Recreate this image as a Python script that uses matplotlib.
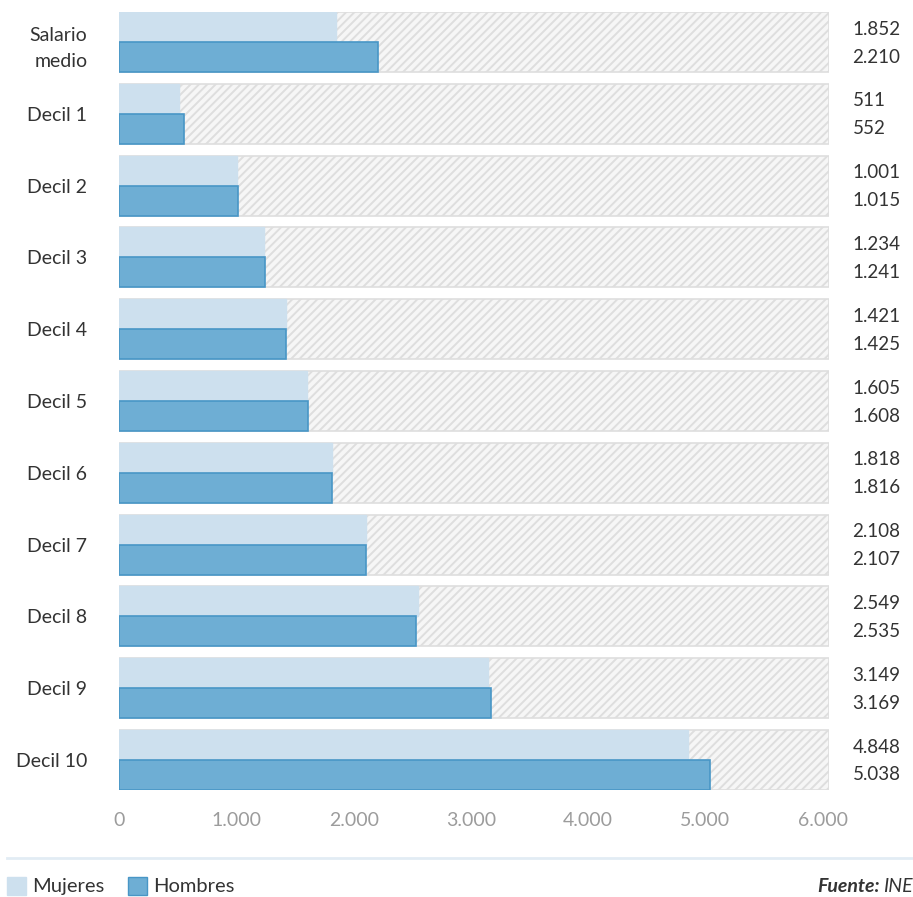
import matplotlib.pyplot as plt
from matplotlib.lines import Line2D
from matplotlib.patches import Rectangle
import numpy as np

plt.rcParams['font.family'] = ['Lato', 'DejaVu Sans']
plt.rcParams['hatch.linewidth'] = 1.4

categories = ["Salario\nmedio", "Decil 1", "Decil 2", "Decil 3", "Decil 4", "Decil 5",
              "Decil 6", "Decil 7", "Decil 8", "Decil 9", "Decil 10"]
mujeres = [1852, 511, 1001, 1234, 1421, 1605, 1818, 2108, 2549, 3149, 4848]
hombres = [2210, 552, 1015, 1241, 1425, 1608, 1816, 2107, 2535, 3169, 5038]
xticks = [0, 1000, 2000, 3000, 4000, 5000, 6000]

C_MUJ = '#cde0ee'
C_HOM = '#6eaed4'
C_HOM_EDGE = '#4896c6'
TXT = '#333333'

W, H = 913, 897
fig = plt.figure(figsize=(W / 100, H / 100), dpi=100)

# axes box in pixels: left 119, right 829, top 12, bottom 790
ax = fig.add_axes([119.3 / W, (H - 790) / H, (829 - 119.3) / W, 778 / H])

XMAX = 6055
BOX = 0.836   # height of each row box
y = np.arange(len(categories))
half = BOX / 2

# hatched background for every row
ax.barh(y, XMAX, height=BOX, color='#f6f6f6', edgecolor='#dedede',
        hatch='////', linewidth=1.2, zorder=1)
ax.barh(y - half / 2, mujeres, height=half, color=C_MUJ, edgecolor=C_MUJ,
        linewidth=1, zorder=2)
ax.barh(y + half / 2, hombres, height=half, color=C_HOM, edgecolor=C_HOM_EDGE,
        linewidth=1.2, zorder=3)

def fmt(v):
    return f"{v:,}".replace(',', '.')

for i in y:
    ax.text(XMAX + 200, i - half / 2 + 0.03, fmt(mujeres[i]), ha='left', va='center',
            fontsize=13.5, color=TXT, clip_on=False)
    ax.text(XMAX + 200, i + half / 2 + 0.0, fmt(hombres[i]), ha='left', va='center',
            fontsize=13.5, color=TXT, clip_on=False)

ax.set_xlim(0, XMAX)
ax.set_ylim(len(categories) - 1 + half, -half)
ax.set_yticks(y)
ax.set_yticklabels(categories, fontsize=14, color=TXT, linespacing=1.65)
ax.set_xticks(xticks)
ax.set_xticklabels([fmt(t) for t in xticks], fontsize=14, color='#9c9c9c')
ax.tick_params(axis='y', length=0, pad=23)
ax.tick_params(axis='x', length=0, pad=16)
for s in ax.spines.values():
    s.set_visible(False)

# separator above legend
fig.add_artist(Line2D([7 / W, 1.0], [(H - 858) / H] * 2, color='#e2ecf4', lw=2))

# legend
for x0, col, edge, lab in [(7, C_MUJ, C_MUJ, 'Mujeres'), (128, C_HOM, C_HOM_EDGE, 'Hombres')]:
    fig.add_artist(Rectangle((x0 / W, (H - 895) / H), 19 / W, 18 / H, facecolor=col,
                             edgecolor=edge, lw=1, transform=fig.transFigure))
    fig.text((x0 + 25) / W, (H - 886) / H, lab, fontsize=14.5, color=TXT, va='center')

fig.text(880 / W, (H - 886) / H, 'Fuente:', fontsize=14, color=TXT, ha='right',
         va='center', fontweight='bold', style='italic')
fig.text(883 / W, (H - 886) / H, 'INE', fontsize=14, color=TXT, ha='left',
         va='center', style='italic')

fig.savefig('out.png', dpi=100)
